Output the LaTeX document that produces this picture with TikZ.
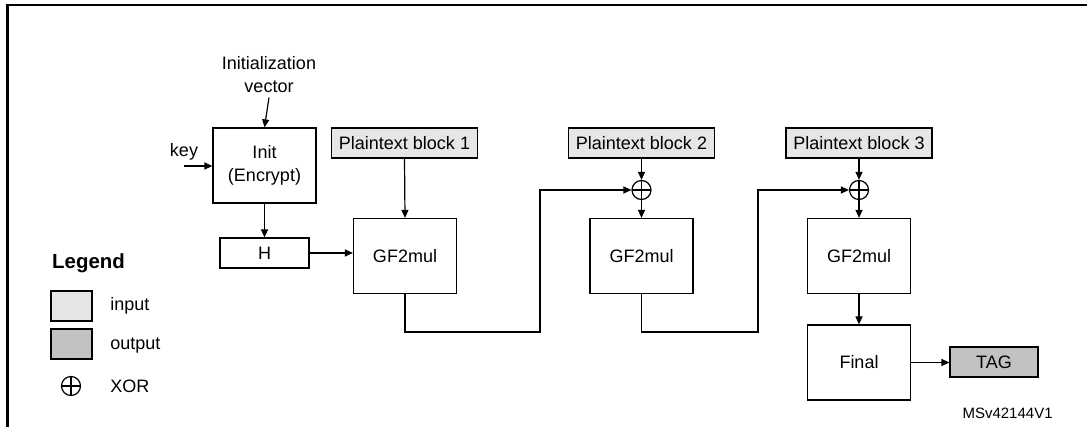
\documentclass[tikz,border=0pt]{standalone}
\usepackage{fontspec}
\setmainfont{Liberation Sans}
\usetikzlibrary{arrows.meta}
\definecolor{ingray}{RGB}{230,230,230}
\definecolor{outgray}{RGB}{194,194,194}

\begin{document}
\begin{tikzpicture}[x=0.5pt,y=-0.5pt,
    every node/.style={font=\fontsize{9}{11.5}\selectfont},
    line/.style={line width=0.6pt},
    arr/.style={line,-{Triangle[length=4pt,width=3.5pt]}},
    blk/.style={draw,line,minimum width=51.5pt,minimum height=37.5pt,inner sep=0pt,align=center},
    smallblk/.style={draw,line,minimum width=44.5pt,minimum height=15pt,inner sep=0pt},
    ptbox/.style={draw,line,fill=ingray,minimum width=73pt,minimum height=15pt,inner sep=0pt},
    xorc/.style={circle,draw,line,minimum size=9.5pt,inner sep=0pt,
      path picture={\draw[line] (path picture bounding box.north) -- (path picture bounding box.south)
        (path picture bounding box.west) -- (path picture bounding box.east);}},
    legbox/.style={draw,line,minimum width=20.5pt,minimum height=15pt,inner sep=0pt}]
    \useasboundingbox (0,0) rectangle (1087,427);
    \draw[line width=1.1pt] (7.5,427) -- (7.5,5) -- (1087,5);

    % init part
    \node[align=center,inner sep=2pt] (iv) at (269,75) {Initialization\\vector};
    \node[blk] (init) at (264.5,165.5) {Init\\(Encrypt)};
    \node (key) at (184,152) {key};
    \coordinate (kin) at (184,166);
    \node[smallblk] (h) at (264.5,253) {H};
    \draw[arr] (iv.south) -- (init.north);
    \draw[arr] (kin) -- (kin -| init.west);
    \draw[arr] (init.south) -- (h.north);

    % blocks
    \node[ptbox] (pt1) at (404.5,143) {Plaintext block 1};
    \node[ptbox] (pt2) at (641.5,143) {Plaintext block 2};
    \node[ptbox] (pt3) at (859,143) {Plaintext block 3};
    \node[xorc] (x2) at (641.5,190) {};
    \node[xorc] (x3) at (859,190) {};
    \node[blk] (gf1) at (405,256) {GF2mul};
    \node[blk] (gf2) at (641.5,256) {GF2mul};
    \node[blk] (gf3) at (859,256) {GF2mul};
    \node[blk] (fin) at (859,362.5) {Final};
    \node[smallblk,fill=outgray,minimum width=44pt] (tag) at (994,362) {TAG};
    \coordinate (c1) at (540,332);
    \coordinate (c2) at (758,332);

    \draw[arr] (h.east) -- (h.east -| gf1.west);
    \draw[arr] (pt1.south) -- (gf1.north);
    \draw[arr] (gf1.south) |- (c1) |- (x2.west);
    \draw[arr] (pt2.south) -- (x2.north);
    \draw[arr] (x2.south) -- (gf2.north);
    \draw[arr] (gf2.south) |- (c2) |- (x3.west);
    \draw[arr] (pt3.south) -- (x3.north);
    \draw[arr] (x3.south) -- (gf3.north);
    \draw[arr] (gf3.south) -- (fin.north);
    \draw[arr] (fin.east) -- (fin.east -| tag.west);

    % legend
    \node[font=\fontsize{10.2}{12}\selectfont\bfseries] (leg) at (88.5,263) {Legend};
    \node[legbox,fill=ingray] (lin) at (71.5,306) {};
    \node[legbox,fill=outgray] (lout) at (71.5,344) {};
    \node[xorc] (lx) at (71,386) {};
    \node[anchor=west,inner sep=0pt] (tin) at (110,306) {input};
    \node[anchor=west,inner sep=0pt] (tout) at (110,346) {output};
    \node[anchor=west,inner sep=0pt] (txor) at (110,386) {XOR};

    \node[anchor=east,inner sep=0pt,font=\fontsize{7.5}{9}\selectfont] (ref) at (1053,413) {MSv42144V1};
\end{tikzpicture}
\end{document}
